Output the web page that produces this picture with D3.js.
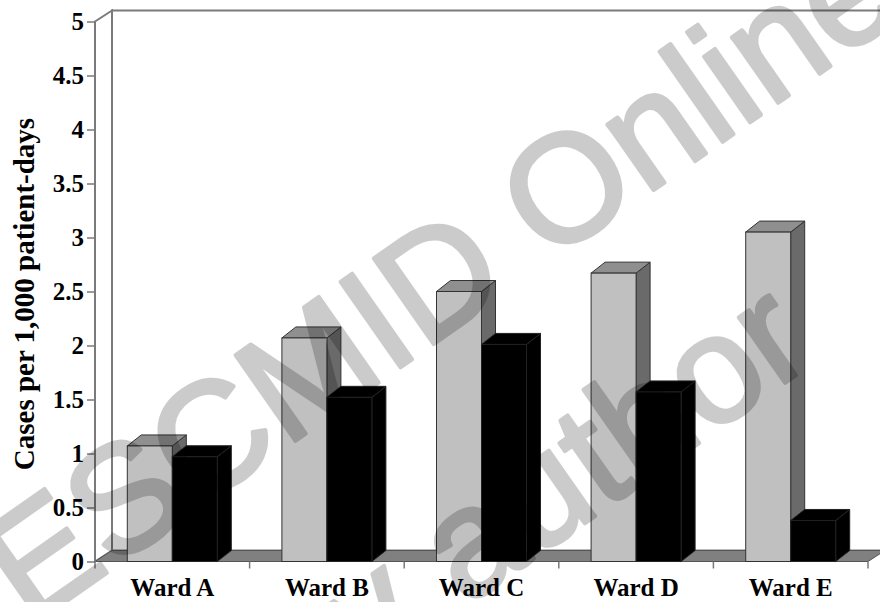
<!DOCTYPE html>
<html>
<head>
<meta charset="utf-8">
<script src="https://cdn.jsdelivr.net/npm/d3@7"></script>
<style>
  html, body { margin: 0; padding: 0; background: #fff; }
  svg { display: block; }
  text { font-family: "Liberation Serif", "Times New Roman", serif; font-weight: bold; }
</style>
</head>
<body>
<svg id="chart" width="880" height="602"></svg>
<script>
// Incidence per ward, two periods (light gray / black columns)
const wards = ["Ward A", "Ward B", "Ward C", "Ward D", "Ward E"];
const series = ["first", "second"];
const firstValues = [1.07, 2.07, 2.50, 2.67, 3.05];
const secondValues = [0.97, 1.52, 2.01, 1.57, 0.38];
const yTicks = [0, 0.5, 1, 1.5, 2, 2.5, 3, 3.5, 4, 4.5, 5];
const yTickLabels = ["0", "0.5", "1", "1.5", "2", "2.5", "3", "3.5", "4", "4.5", "5"];
const yTitle = "Cases per 1,000 patient-days";
const watermarkLines = ["ESCMID Online", "by author"];

const svg = d3.select("#chart");

// plot frame (front plane) and 3-D depth offsets
const plotLeft = 95, plotRight = 868, plotTop = 21.5, plotBottom = 561.5;
const wallDx = 17, wallDy = -11;   // depth of walls / floor
const barDx = 14, barDy = -11;     // depth of columns
const barW = 45;

const y = d3.scaleLinear().domain([0, 5]).range([plotBottom, plotTop]);
const x0 = d3.scaleBand().domain(wards).range([plotLeft, plotRight]).padding(0);
const x1 = d3.scaleBand().domain(series)
  .range([x0.bandwidth() / 2 - barW, x0.bandwidth() / 2 + barW]).padding(0);

const wallStroke = "#7a7a7a";
const poly = pts => "M" + pts.map(p => p.join(",")).join("L") + "Z";

// back wall
svg.append("path")
  .attr("d", poly([[plotLeft + wallDx, plotTop + wallDy], [plotRight + wallDx, plotTop + wallDy],
                   [plotRight + wallDx, plotBottom + wallDy], [plotLeft + wallDx, plotBottom + wallDy]]))
  .attr("fill", "#fff").attr("stroke", wallStroke).attr("stroke-width", 2);

// left side wall
svg.append("path")
  .attr("d", poly([[plotLeft, plotTop], [plotLeft + wallDx, plotTop + wallDy],
                   [plotLeft + wallDx, plotBottom + wallDy], [plotLeft, plotBottom]]))
  .attr("fill", "#fff").attr("stroke", wallStroke).attr("stroke-width", 2);

// floor
svg.append("path")
  .attr("d", poly([[plotLeft, plotBottom], [plotLeft + wallDx, plotBottom + wallDy],
                   [plotRight + wallDx, plotBottom + wallDy], [plotRight, plotBottom]]))
  .attr("fill", "#808080").attr("stroke", "#555").attr("stroke-width", 1);

// columns: front face, top face, side face
const rows = [];
wards.forEach((w, i) => {
  rows.push({ ward: w, s: "first", v: firstValues[i] });
  rows.push({ ward: w, s: "second", v: secondValues[i] });
});
const faceFill = {
  first: { front: "#c0c0c0", top: "#8f8f8f", side: "#6a6a6a", stroke: "#333" },
  second: { front: "#000", top: "#000", side: "#000", stroke: "#222" }
};

const bars = svg.append("g").selectAll("g").data(rows).join("g");
bars.each(function (d) {
  const g = d3.select(this);
  const xl = x0(d.ward) + x1(d.s);
  const xr = xl + x1.bandwidth();
  const yt = y(d.v), yb = y(0);
  const c = faceFill[d.s];
  g.append("path").attr("d", poly([[xr, yt], [xr + barDx, yt + barDy], [xr + barDx, yb + barDy], [xr, yb]]))
    .attr("fill", c.side).attr("stroke", c.stroke).attr("stroke-width", 1);
  g.append("path").attr("d", poly([[xl, yt], [xl + barDx, yt + barDy], [xr + barDx, yt + barDy], [xr, yt]]))
    .attr("fill", c.top).attr("stroke", c.stroke).attr("stroke-width", 1);
  g.append("rect").attr("x", xl).attr("y", yt).attr("width", xr - xl).attr("height", yb - yt)
    .attr("fill", c.front).attr("stroke", c.stroke).attr("stroke-width", 1);
});

// y axis
const yAxis = d3.axisLeft(y).tickValues(yTicks)
  .tickFormat((d, i) => yTickLabels[i]).tickSize(8).tickPadding(3);
const gy = svg.append("g").attr("transform", `translate(${plotLeft},0)`).call(yAxis);
gy.select(".domain").remove();
gy.selectAll(".tick line").attr("stroke", wallStroke).attr("stroke-width", 1.5);
gy.selectAll(".tick text").attr("fill", "#000").style("font-size", "25px")
  .style("font-family", "Liberation Serif").style("font-weight", "bold");

// x axis: labels centred in each band, ticks on the band boundaries
const xAxis = d3.axisBottom(x0).tickSize(0).tickPadding(17);
const gx = svg.append("g").attr("transform", `translate(0,${plotBottom})`).call(xAxis);
gx.select(".domain").remove();
gx.selectAll(".tick text").attr("fill", "#000").style("font-size", "25px")
  .style("font-family", "Liberation Serif").style("font-weight", "bold");
const boundaries = wards.map(w => x0(w)).concat([x0.range()[1]]);
svg.append("g").selectAll("line").data(boundaries).join("line")
  .attr("x1", d => d).attr("x2", d => d).attr("y1", plotBottom).attr("y2", plotBottom + 7)
  .attr("stroke", wallStroke).attr("stroke-width", 1.5);

// y axis title
svg.append("text")
  .attr("transform", "translate(34,294) rotate(-90)")
  .attr("text-anchor", "middle")
  .style("font-size", "29px")
  .text(yTitle);

// watermark overlay (translucent, drawn above everything)
const wm = svg.append("g").attr("pointer-events", "none")
  .attr("opacity", 0.2).attr("fill", "#000")
  .attr("stroke", "#000").attr("stroke-width", 4).attr("stroke-linejoin", "round");
wm.append("text")
  .attr("transform", "translate(908,12) rotate(-35)")
  .attr("text-anchor", "end")
  .style("font-size", "152px").style("font-family", "Liberation Sans").style("font-weight", "normal")
  .text(watermarkLines[0]);
wm.append("text")
  .attr("transform", "translate(818,360) rotate(-35)")
  .attr("text-anchor", "end")
  .style("font-size", "152px").style("font-family", "Liberation Sans").style("font-weight", "normal")
  .text(watermarkLines[1]);
</script>
</body>
</html>
